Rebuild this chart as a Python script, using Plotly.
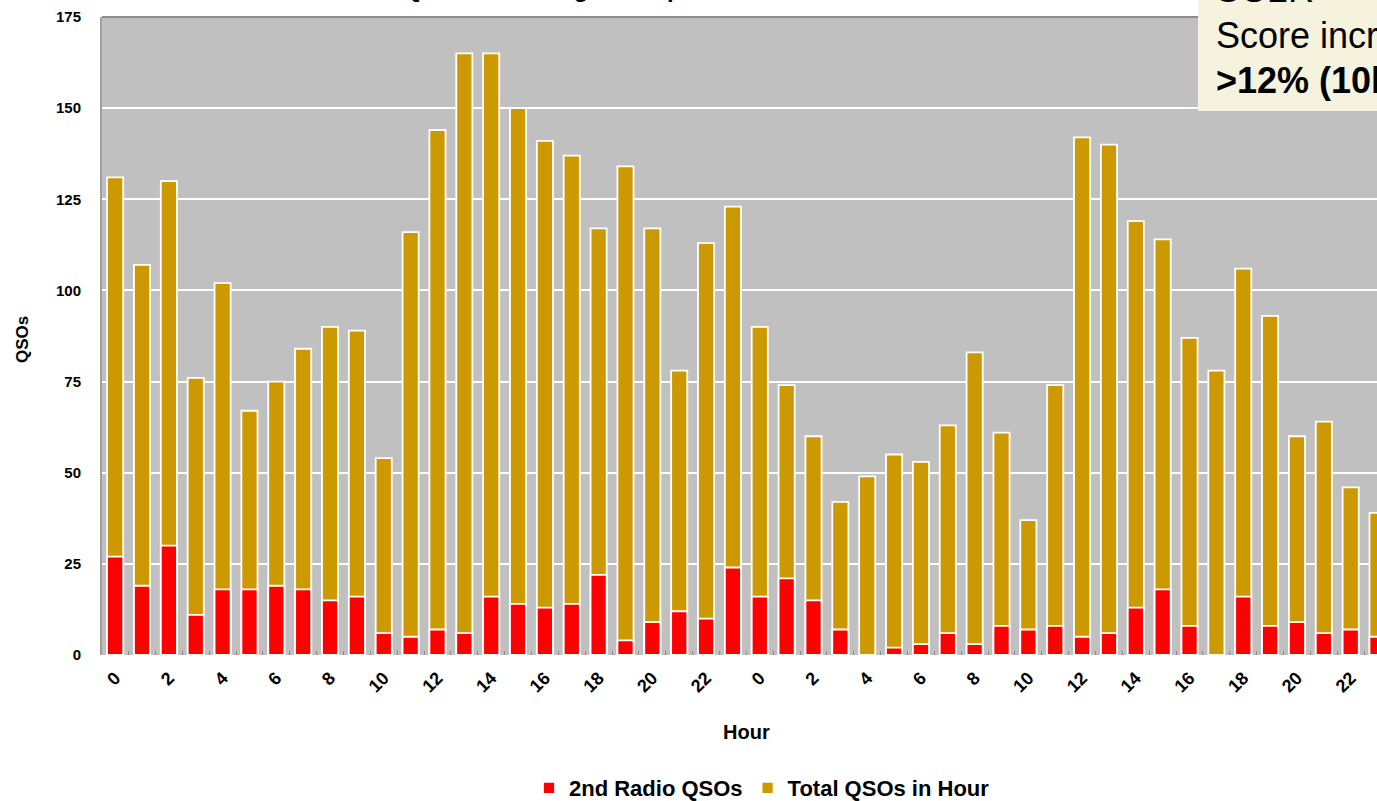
import plotly.graph_objects as go

hours = list(range(24)) + list(range(24))
total_qsos = [131, 107, 130, 76, 102, 67, 75, 84, 90, 89, 54, 116, 144, 165, 165, 150,
              141, 137, 117, 134, 117, 78, 113, 123,
              90, 74, 60, 42, 49, 55, 53, 63, 83, 61, 37, 74, 142, 140, 119, 114,
              87, 78, 106, 93, 60, 64, 46, 39]
radio2_qsos = [27, 19, 30, 11, 18, 18, 19, 18, 15, 16, 6, 5, 7, 6, 16, 14,
               13, 14, 22, 4, 9, 12, 10, 24,
               16, 21, 15, 7, 0, 2, 3, 6, 3, 8, 7, 8, 5, 6, 13, 18,
               8, 0, 16, 8, 9, 6, 7, 5]
y_ticks = [0, 25, 50, 75, 100, 125, 150, 175]

idx = list(range(len(hours)))
tick_idx = [i for i in idx if hours[i] % 2 == 0]
tick_txt = [str(hours[i]) for i in tick_idx]

FONT = "Arial, Liberation Sans, sans-serif"
W, H = 1377, 801
ML, MT, MB, MR = 102, 17, 146, 0
PW = W - ML - MR
PH = H - MT - MB

def px(x):
    return (x - ML) / PW

def py(y):
    return (H - MB - y) / PH

fig = go.Figure()
fig.add_trace(go.Bar(x=idx, y=total_qsos, name="Total QSOs in Hour",
                     marker=dict(color="#CC9900", line=dict(color="white", width=1.8)),
                     width=0.6))
fig.add_trace(go.Bar(x=idx, y=radio2_qsos, name="2nd Radio QSOs",
                     marker=dict(color="#FF0000", line=dict(color="white", width=1.8)),
                     width=0.6))

fig.update_layout(
    width=W, height=H,
    margin=dict(l=ML, r=MR, t=MT, b=MB, autoexpand=False),
    barmode="overlay",
    plot_bgcolor="#C0C0C0",
    paper_bgcolor="white",
    font=dict(family=FONT, color="black"),
    showlegend=True,
    legend=dict(orientation="h", traceorder="reversed", x=px(762), xanchor="center",
                y=py(788), yanchor="middle",
                font=dict(size=22, weight="bold", family=FONT), itemwidth=30),
    xaxis=dict(range=[-0.49, 46.98], tickmode="array", tickvals=tick_idx, ticktext=tick_txt,
               tickangle=-45, ticks="", showgrid=False, zeroline=False,
               tickfont=dict(size=18, weight="bold", family=FONT), ticklabelstandoff=8,
               minor=dict(tickmode="array", tickvals=[i + 0.5 for i in idx],
                          ticks="inside", ticklen=4, tickcolor="#8C8C8C", tickwidth=1)),
    yaxis=dict(range=[0, 175], tickmode="array", tickvals=y_ticks,
               showgrid=True, gridcolor="white", gridwidth=1.5, zeroline=False,
               showline=True, linecolor="#A0A0A0", linewidth=2,
               tickfont=dict(size=15, weight="bold", family=FONT), ticklabelstandoff=16),
)

# top border of plot area
fig.add_shape(type="line", xref="paper", yref="paper", x0=0, x1=1, y0=1, y1=1,
              line=dict(color="#8C8C8C", width=2))

# axis titles
fig.add_annotation(text="<b>QSOs</b>", xref="paper", yref="paper", x=px(22), y=py(340),
                   xanchor="center", yanchor="middle",
                   textangle=-90, showarrow=False, font=dict(size=17, family=FONT))
fig.add_annotation(text="<b>Hour</b>", xref="paper", yref="paper", x=px(746), y=py(732),
                   xanchor="center", yanchor="middle",
                   showarrow=False, font=dict(size=20, family=FONT))

# chart title (cut off at the top of the image)
fig.add_annotation(text="<b>QSO Rate Using SO2R per Hour</b>", xref="paper", yref="paper",
                   x=px(585), y=py(4), xanchor="center", yanchor="bottom",
                   showarrow=False, font=dict(size=24, family=FONT))

# note box at top right (cut off by the image edge)
fig.add_shape(type="rect", xref="paper", yref="paper", x0=px(1198), x1=px(1600),
              y0=py(111), y1=py(-50), fillcolor="#F5F3DE", line=dict(width=0), layer="above")
fig.add_annotation(text="SO2R", xref="paper", yref="paper", x=px(1214), y=py(-10),
                   xanchor="left", yanchor="middle", showarrow=False,
                   font=dict(size=36, family=FONT))
fig.add_annotation(text="Score increase", xref="paper", yref="paper", x=px(1214), y=py(36),
                   xanchor="left", yanchor="middle", showarrow=False,
                   font=dict(size=36, family=FONT))
fig.add_annotation(text="<b>&gt;12% (10k pts)</b>", xref="paper", yref="paper", x=px(1214), y=py(81),
                   xanchor="left", yanchor="middle", showarrow=False,
                   font=dict(size=36, family=FONT))

fig.write_html("out.html", config={"displayModeBar": False},
               post_script="document.body.style.margin='0';document.body.style.overflow='hidden';")
